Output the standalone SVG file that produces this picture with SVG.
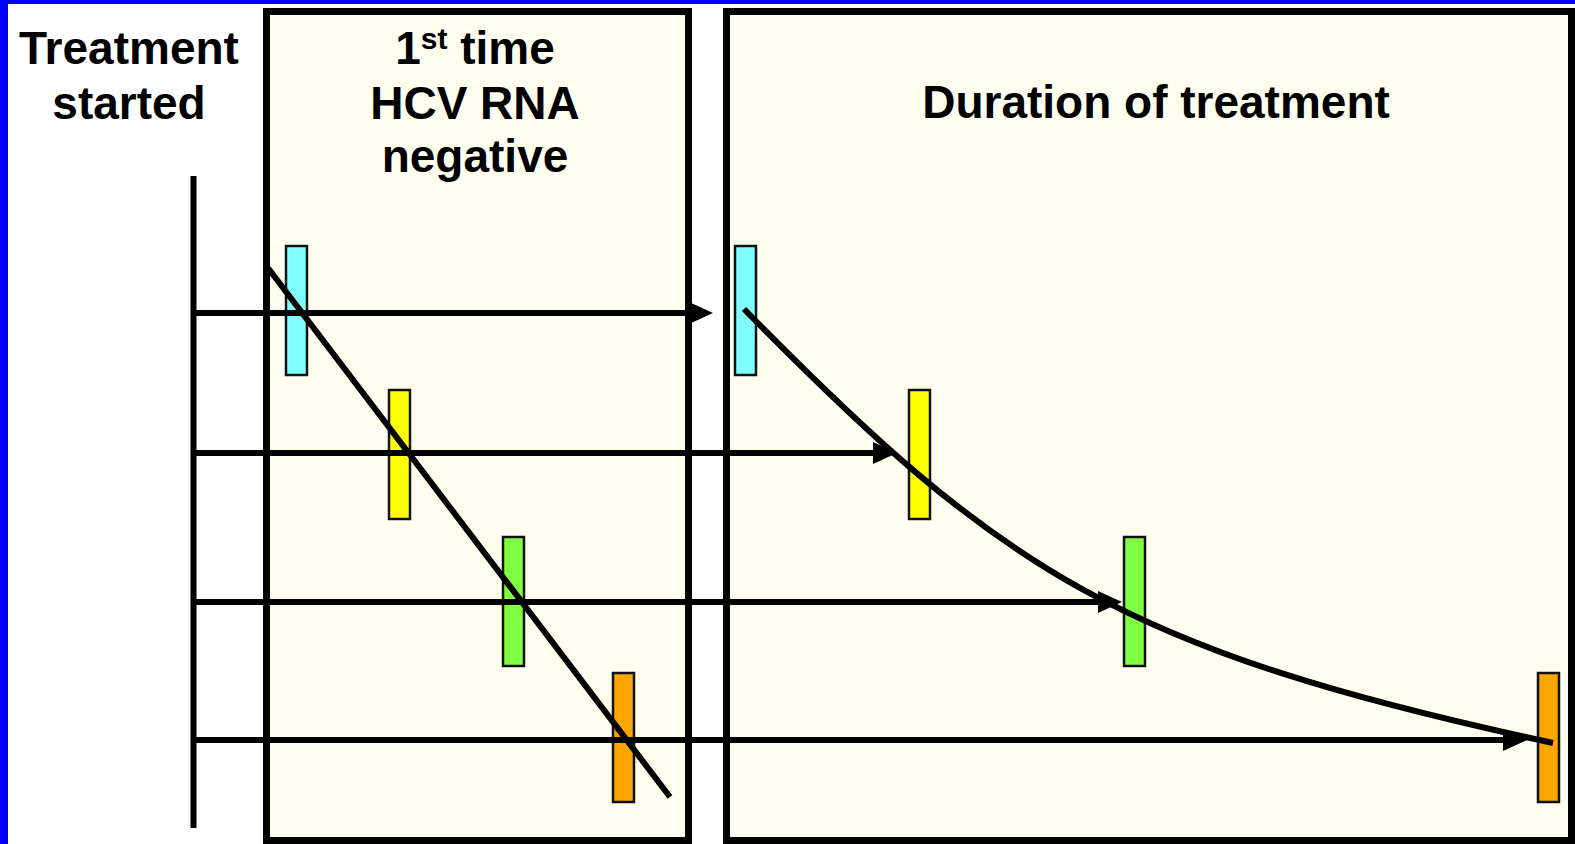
<svg xmlns="http://www.w3.org/2000/svg" width="1575" height="844" viewBox="0 0 1575 844">
  <defs>
    <style>
      .box { fill: #FFFFF0; stroke: #000; stroke-width: 7; }
      .lbl { font-family: "Liberation Sans", Arial, sans-serif; font-weight: bold; font-size: 46px; fill: #000; text-anchor: middle; }
      .bar { stroke: #111; stroke-width: 2.5; }
      .cyan { fill: #80FFFF; }
      .yellow { fill: #FFFF00; }
      .green { fill: #80FF40; }
      .orange { fill: #FFA500; }
      .line { stroke: #000; stroke-width: 6; fill: none; }
    </style>
    <marker id="ah" markerUnits="userSpaceOnUse" markerWidth="26" markerHeight="24" refX="2" refY="12" orient="auto">
      <path d="M0,1 L24,12 L0,23 Z" fill="#000"/>
    </marker>
  </defs>

  <rect x="0" y="0" width="1575" height="844" fill="#FFFFFF"/>
  <rect x="0" y="0" width="1575" height="4" fill="#0000FF"/>
  <rect x="0" y="0" width="8" height="844" fill="#0000FF"/>

  <g id="label-treatment-started">
    <text class="lbl" x="129" y="64">Treatment</text>
    <text class="lbl" x="129" y="119">started</text>
  </g>

  <g id="box-first-negative">
    <rect class="box" x="266.5" y="11.5" width="422" height="829"/>
    <text class="lbl" x="475" y="64">1<tspan font-size="30" dy="-15">st</tspan><tspan dy="15"> time</tspan></text>
    <text class="lbl" x="475" y="119">HCV RNA</text>
    <text class="lbl" x="475" y="172">negative</text>
  </g>

  <g id="box-duration">
    <rect class="box" x="726.5" y="11.5" width="845" height="829"/>
    <text class="lbl" x="1156" y="118">Duration of treatment</text>
  </g>

  <g id="bars-left">
    <rect class="bar cyan" x="286" y="246" width="21" height="129"/>
    <rect class="bar yellow" x="389" y="390" width="21" height="129"/>
    <rect class="bar green" x="503" y="537" width="21" height="129"/>
    <rect class="bar orange" x="613" y="673" width="21" height="129"/>
  </g>

  <g id="bars-right">
    <rect class="bar cyan" x="735" y="246" width="21" height="129"/>
    <rect class="bar yellow" x="909" y="390" width="21" height="129"/>
    <rect class="bar green" x="1124" y="537" width="21" height="129"/>
    <rect class="bar orange" x="1538" y="673" width="21" height="129"/>
  </g>

  <g id="connectors">
    <line class="line" x1="193.5" y1="176" x2="193.5" y2="828"/>
    <line class="line" x1="193" y1="313" x2="691" y2="313" marker-end="url(#ah)"/>
    <line class="line" x1="193" y1="453" x2="875" y2="453" marker-end="url(#ah)"/>
    <line class="line" x1="193" y1="602" x2="1100" y2="602" marker-end="url(#ah)"/>
    <line class="line" x1="193" y1="740" x2="1505" y2="740" marker-end="url(#ah)"/>
    <line class="line" x1="268" y1="268" x2="670" y2="797"/>
    <path class="line" d="M744,309 C1000,570 1120,650 1553,743"/>
  </g>
</svg>
